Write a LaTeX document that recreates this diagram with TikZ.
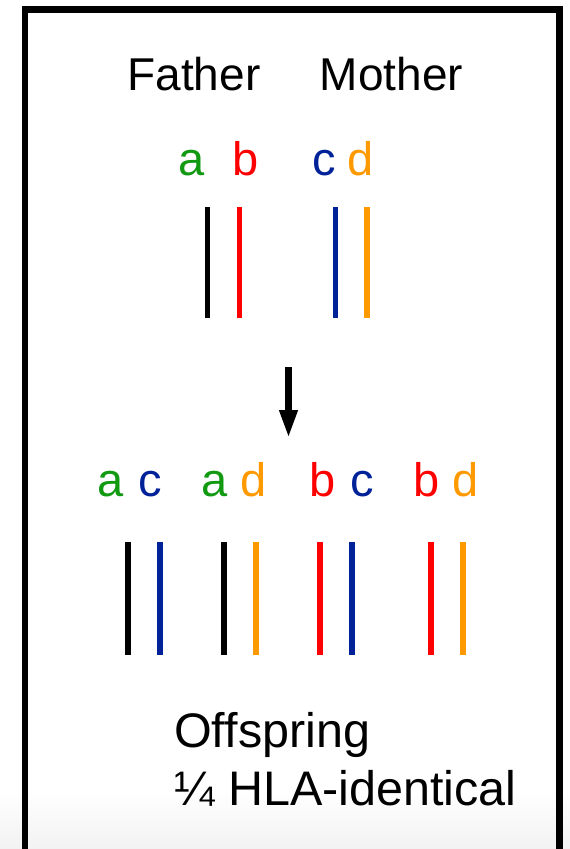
\documentclass[tikz,border=0pt]{standalone}
\usepackage{fontspec}
\setmainfont{Liberation Sans}
\usetikzlibrary{arrows.meta}
\definecolor{agreen}{RGB}{17,153,17}
\definecolor{bred}{RGB}{255,0,0}
\definecolor{cblue}{RGB}{0,34,153}
\definecolor{dorange}{RGB}{255,153,0}
\tikzset{
  lbl/.style={anchor=base, inner sep=0pt, font=\fontsize{46}{55}\selectfont},
  allele/.style={anchor=base, inner sep=0pt, font=\fontsize{47}{56}\selectfont},
  bigtxt/.style={anchor=base west, inner sep=0pt, font=\fontsize{48.5}{58}\selectfont},
  chrom/.style={line width=5.7pt},
  frame/.style={line width=6.6pt, miter limit=10},
  arr/.style={line width=6.7pt, -{Triangle[length=28pt,width=17pt]}}
}
\begin{document}
\begin{tikzpicture}[x=1pt,y=-1pt]
\useasboundingbox (0,0) rectangle (570,849);
\fill[white] (0,0) rectangle (570,849);
\shade[top color=white, bottom color=black!5] (0,790) rectangle (570,849);
% frame (open at the bottom)
\draw[frame] (25,849) -- (25,9.35) -- (559.35,9.35) -- (559.35,849);

% parents
\node[lbl] (father) at (194,90) {Father};
\node[lbl] (mother) at (391.5,90) {Mother};

\node[allele, text=agreen] (pa) at (191.5,175) {a};
\node[allele, text=bred] (pb) at (246,175) {b};
\node[allele, text=cblue] (pc) at (324.5,175) {c};
\node[allele, text=dorange] (pd) at (361,175) {d};

\draw[chrom, black] (207.5,207) -- (207.5,318);
\draw[chrom, bred] (239.5,207) -- (239.5,318);
\draw[chrom, cblue] (335.5,207) -- (335.5,318);
\draw[chrom, dorange] (367,207) -- (367,318);

% arrow
\coordinate (arrS) at (288.5,367);
\coordinate (arrE) at (288.5,438);
\draw[arr] (arrS) -- (arrE);

% offspring
\node[allele, text=agreen] (o1a) at (111,496) {a};
\node[allele, text=cblue] (o1c) at (150.5,496) {c};
\node[allele, text=agreen] (o2a) at (215,496) {a};
\node[allele, text=dorange] (o2d) at (254,496) {d};
\node[allele, text=bred] (o3b) at (323,496) {b};
\node[allele, text=cblue] (o3c) at (362,496) {c};
\node[allele, text=bred] (o4b) at (427,496) {b};
\node[allele, text=dorange] (o4d) at (466,496) {d};

\draw[chrom, black] (128,542) -- (128,655);
\draw[chrom, cblue] (159.7,542) -- (159.7,655);
\draw[chrom, black] (224,542) -- (224,655);
\draw[chrom, dorange] (255.7,542) -- (255.7,655);
\draw[chrom, bred] (320,542) -- (320,655);
\draw[chrom, cblue] (352,542) -- (352,655);
\draw[chrom, bred] (431,542) -- (431,655);
\draw[chrom, dorange] (463,542) -- (463,655);

\node[bigtxt] (off) at (174,747) {Offspring};
\node[bigtxt] (hla) at (174,805) {¼ HLA-identical};
\end{tikzpicture}
\end{document}
